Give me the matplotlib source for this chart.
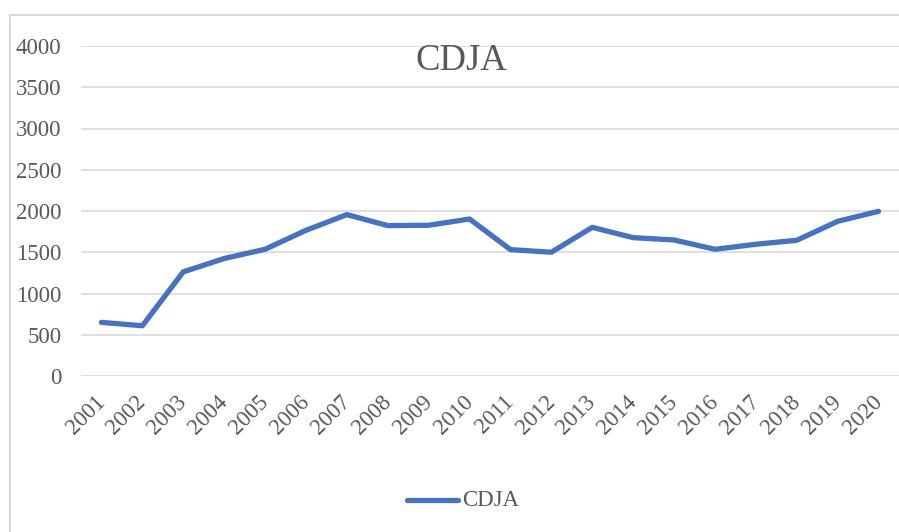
import matplotlib
matplotlib.use("Agg")
import matplotlib.pyplot as plt
import matplotlib.transforms as mtransforms
from matplotlib.lines import Line2D

# ── Data ──────────────────────────────────────────────────────────────────────
YEARS = [str(y) for y in range(2001, 2021)]
CDJA = [650, 609, 1262, 1424, 1536, 1766, 1956, 1823, 1827, 1903,
        1532, 1500, 1802, 1677, 1649, 1536, 1597, 1645, 1875, 1996]
Y_TICKS = [0, 500, 1000, 1500, 2000, 2500, 3000, 3500, 4000]

# ── Style ─────────────────────────────────────────────────────────────────────
W, H = 899, 532
LINE_COLOR = "#4472C4"
GRID_COLOR = "#D9D9D9"
TEXT_COLOR = "#595959"
plt.rcParams["font.family"] = ["Liberation Serif", "DejaVu Serif"]

fig = plt.figure(figsize=(W / 100, H / 100), dpi=100)
ax = fig.add_axes([81 / W, 1 - 376 / H, (W - 81) / W, 330 / H])

x = list(range(len(YEARS)))
ax.plot(x, CDJA, color=LINE_COLOR, linewidth=3.8,
        solid_capstyle="round", solid_joinstyle="round", zorder=3)

ax.set_xlim(-0.5, len(YEARS) - 0.5)
ax.set_ylim(0, 4000)
ax.set_yticks(Y_TICKS)
ax.set_xticks(x)
ax.set_xticklabels(YEARS, rotation=45, ha="right", va="top",
                   rotation_mode="anchor")
ax.tick_params(axis="both", length=0, labelsize=16.5, colors=TEXT_COLOR)
ax.tick_params(axis="y", pad=14)
ax.tick_params(axis="x", pad=6)
ax.grid(axis="y", color=GRID_COLOR, linewidth=1.2)
ax.set_axisbelow(True)
for s in ax.spines.values():
    s.set_visible(False)

# shift rotated year labels down-left a little
shift = mtransforms.ScaledTranslation(-7 / 100, -7 / 100, fig.dpi_scale_trans)
for lbl in ax.get_xticklabels():
    lbl.set_transform(lbl.get_transform() + shift)

# title
fig.text(461 / W, 1 - 70 / H, "CDJA", ha="center", va="baseline",
         fontsize=26.5, color=TEXT_COLOR)

# legend
fig.add_artist(Line2D([407 / W, 458 / W], [1 - 500 / H, 1 - 500 / H],
                      color=LINE_COLOR, linewidth=3.8,
                      solid_capstyle="round"))
fig.text(462 / W, 1 - 500 / H, "CDJA", ha="left", va="center",
         fontsize=16.5, color=TEXT_COLOR)

# chart border (only left and top visible)
fig.add_artist(Line2D([10 / W, 10 / W], [0, 1 - 15 / H],
                      color=GRID_COLOR, linewidth=1.5))
fig.add_artist(Line2D([10 / W, 1], [1 - 15 / H, 1 - 15 / H],
                      color=GRID_COLOR, linewidth=1.5))

fig.savefig("out.png", dpi=100)
